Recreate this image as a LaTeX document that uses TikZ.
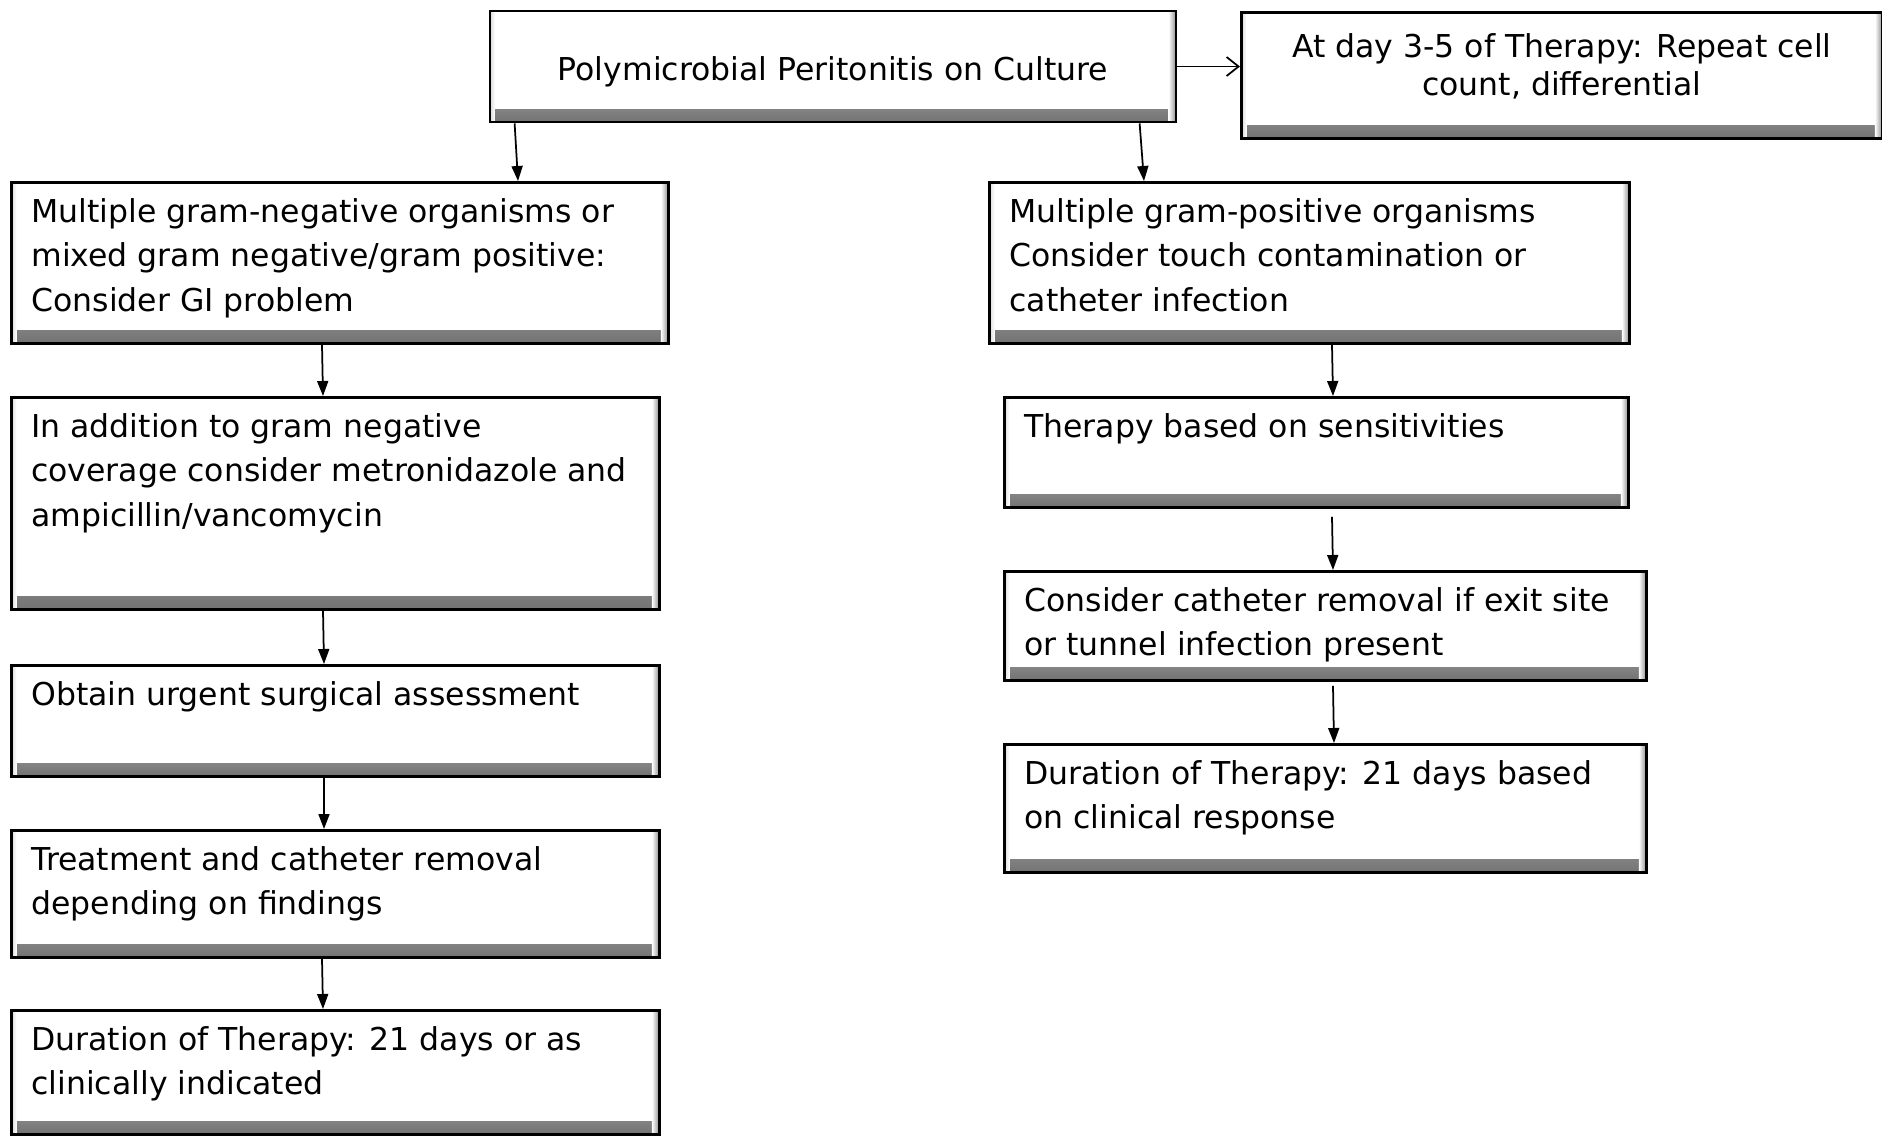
\documentclass[tikz,border=0pt]{standalone}
\usepackage{fontspec}
\setmainfont{DejaVu Sans}
\usepackage{tikz}
\usetikzlibrary{arrows.meta}
\newdimen\pxu
\pxu=0.4pt
\newcommand{\boxtext}[3]{\parbox[t][#1\pxu][t]{#2\pxu}{\raggedright\strut #3}}
\tikzset{
	bevel/.style={path picture={
		\shade[top color=white, bottom color=black!55] ([yshift=5pt]path picture bounding box.south west) rectangle (path picture bounding box.south east);
		\shade[left color=white, right color=black!45] ([xshift=-3pt]path picture bounding box.north east) rectangle (path picture bounding box.south east);
		\shade[left color=black!15, right color=white] (path picture bounding box.north west) rectangle ([xshift=2pt]path picture bounding box.south west);
	}},
	flowbox/.style={draw, line width=1.1pt, fill=white, anchor=north west, inner xsep=8pt, inner ysep=3.6pt, bevel, font=\fontsize{12.6}{17.76}\selectfont},
	headbox/.style={draw, line width=1.1pt, fill=white, align=center, inner sep=0pt, bevel, font=\fontsize{12.6}{15.2}\selectfont},
	arr/.style={-{Triangle[length=6pt,width=4.4pt]}, line width=0.7pt},
	openarr/.style={-{Straight Barb[length=4.8pt,width=7.6pt]}, line width=0.7pt},
}
\begin{document}
\begin{tikzpicture}[x=0.4pt, y=-0.4pt]
				\useasboundingbox (0,0) rectangle (1882,1135);
				\node[headbox, minimum width=274.4pt, minimum height=44.4pt, text height=13pt, text depth=1.5pt] (cult) at (833,66.5) {Polymicrobial Peritonitis on Culture};
				\node[flowbox, inner ysep=7.6pt, font=\fontsize{12.6}{15.2}\selectfont] (day) at (1240,11) {\parbox[t][88\pxu][t]{601\pxu}{\centering\strut At day 3-5 of Therapy: Repeat cell\\ count, differential}};
				\node[flowbox] (neg) at (10,181) {\boxtext{143}{617}{Multiple gram-negative organisms or\\ mixed gram negative/gram positive:\\ Consider GI problem}};
				\node[flowbox] (cover) at (10,396) {\boxtext{194}{608}{In addition to gram negative\\ coverage consider metronidazole and\\ ampicillin/vancomycin}};
				\node[flowbox] (surg) at (10,664) {\boxtext{93}{608}{Obtain urgent surgical assessment}};
				\node[flowbox] (treat) at (10,829) {\boxtext{109}{608}{Treatment and catheter removal\\ depending on findings}};
				\node[flowbox] (durl) at (10,1009) {\boxtext{106}{608}{Duration of Therapy: 21 days or as\\ clinically indicated}};
				\node[flowbox] (pos) at (988,181) {\boxtext{143}{600}{Multiple gram-positive organisms\\ Consider touch contamination or\\ catheter infection}};
				\node[flowbox] (sens) at (1003,396) {\boxtext{92}{584}{Therapy based on sensitivities}};
				\node[flowbox] (remove) at (1003,570) {\boxtext{91}{602}{Consider catheter removal if exit site\\ or tunnel infection present}};
				\node[flowbox] (durr) at (1003,743) {\boxtext{110}{602}{Duration of Therapy: 21 days based\\ on clinical response}};
				\draw[openarr] (cult.east) -- (cult.east -| day.west);
				\draw[arr] ([xshift=10.4pt]cult.south west) -- ([xshift=203.2pt]neg.north west);
				\draw[arr] ([xshift=260.4pt]cult.south west) -- ([xshift=62.4pt]pos.north west);
				\draw[arr] ([xshift=124.8pt]neg.south west) -- ([xshift=125.2pt]cover.north west);
				\draw[arr] ([xshift=125.2pt]cover.south west) -- ([xshift=125.6pt]surg.north west);
				\draw[arr] ([xshift=125.6pt]surg.south west) -- ([xshift=125.6pt]treat.north west);
				\draw[arr] ([xshift=124.8pt]treat.south west) -- ([xshift=125.2pt]durl.north west);
				\draw[arr] ([xshift=137.6pt]pos.south west) -- ([xshift=132pt]sens.north west);
				\draw[arr] ([xshift=131.6pt, yshift=-3.2pt]sens.south west) -- ([xshift=132pt]remove.north west);
				\draw[arr] ([xshift=132pt, yshift=-1.6pt]remove.south west) -- ([xshift=132.4pt]durr.north west);
			\end{tikzpicture}
\end{document}
